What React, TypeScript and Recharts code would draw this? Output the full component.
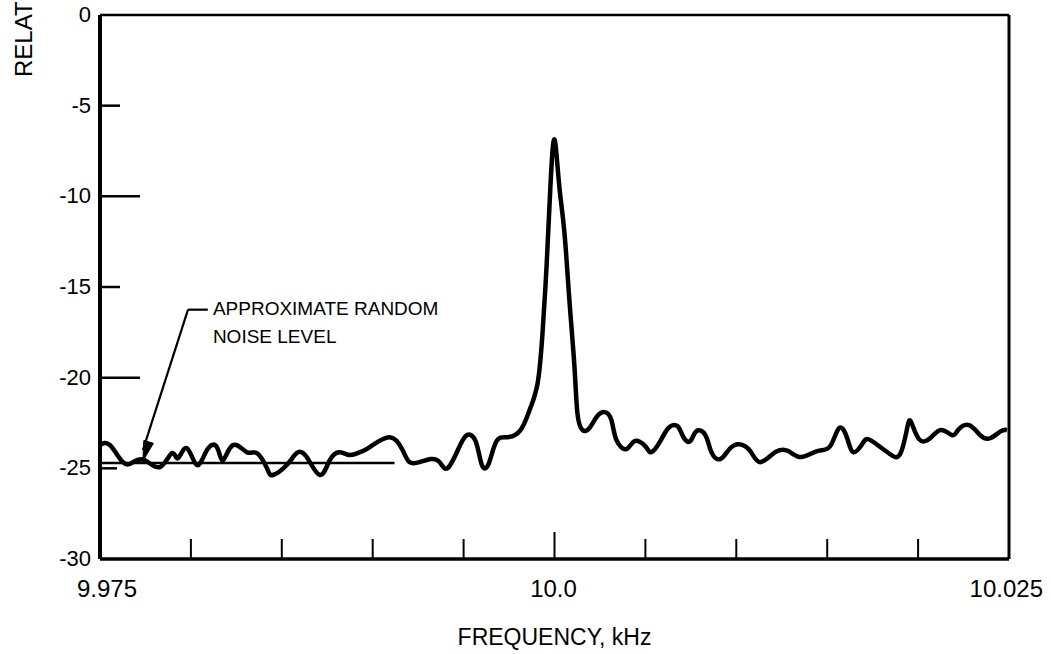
import React from "react";
import { LineChart, Line, XAxis, YAxis, ReferenceLine, ReferenceDot } from "recharts";

// ---------- data ----------
const frequencyKHz = [
  9.975, 9.97555, 9.97626, 9.97681, 9.97747, 9.9783, 9.97896, 9.97929, 9.97978, 9.98033,
  9.98088, 9.98143, 9.98176, 9.98231, 9.98308, 9.98363, 9.98418, 9.98451, 9.98527, 9.98582,
  9.98637, 9.98709, 9.98764, 9.98819, 9.98874, 9.98929, 9.98984, 9.99093, 9.99165, 9.99203,
  9.99258, 9.99319, 9.99368, 9.99412, 9.99473, 9.99517, 9.99566, 9.99599, 9.99637, 9.99681,
  9.99742, 9.99813, 9.99863, 9.99907, 9.99934, 9.99956, 9.99973, 9.99989, 10.00005, 10.00027,
  10.00055, 10.00082, 10.0011, 10.00126, 10.00154, 10.00192, 10.00231, 10.00275, 10.00313, 10.00341,
  10.00396, 10.0044, 10.005, 10.00533, 10.00582, 10.00626, 10.00676, 10.00709, 10.00747, 10.0078,
  10.0083, 10.00863, 10.00912, 10.00962, 10.01016, 10.01077, 10.01132, 10.01214, 10.01286, 10.01357,
  10.01445, 10.01516, 10.01566, 10.0161, 10.01643, 10.01692, 10.01725, 10.01786, 10.01846, 10.01901,
  10.0194, 10.01962, 10.02005, 10.02066, 10.02126, 10.02187, 10.0222, 10.0228, 10.02341, 10.02396,
  10.02456, 10.02489,
];
const relativeLevelDb = [
  -23.72, -23.72, -24.66, -24.66, -24.55, -24.93, -24.16, -24.44, -23.89, -24.82,
  -24.0, -23.83, -24.55, -23.72, -24.11, -24.16, -24.99, -25.37, -24.82, -24.16,
  -24.38, -25.37, -24.55, -24.11, -24.27, -24.11, -23.83, -23.28, -24.0, -24.66,
  -24.66, -24.49, -24.66, -24.99, -23.89, -23.17, -23.5, -24.77, -24.77, -23.5,
  -23.28, -22.89, -21.79, -20.31, -17.56, -13.92, -10.4, -7.5, -7.1, -9.5,
  -12.05, -15.74, -19.43, -21.96, -22.89, -22.78, -22.18, -21.9, -22.34, -23.45,
  -23.94, -23.5, -23.78, -24.11, -23.5, -22.78, -22.67, -23.28, -23.5, -22.95,
  -23.17, -24.11, -24.49, -23.94, -23.67, -24.05, -24.66, -24.11, -24.05, -24.38,
  -24.05, -23.78, -22.78, -23.34, -24.11, -23.67, -23.39, -23.78, -24.22, -24.22,
  -22.78, -22.45, -23.39, -23.34, -22.89, -23.17, -22.89, -22.62, -23.17, -23.34,
  -22.95, -22.89,
];

const xDomain = [9.975, 10.025];
const yDomain = [-30, 0];
const xTicks = [9.975, 9.98, 9.985, 9.99, 9.995, 10.0, 10.005, 10.01, 10.015, 10.02, 10.025];
const xLabeledTicks = [9.975, 10.0, 10.025];
const xTickLabels = ["9.975", "10.0", "10.025"];
const yTicks = [0, -5, -10, -15, -20, -25, -30];
const yTickLabels = ["0", "-5", "-10", "-15", "-20", "-25", "-30"];

const noiseLevelDb = -24.7;
const noiseLineEndKHz = 9.9912;
const arrowCorner = { f: 9.97984, db: -16.25 };
const leaderEnd = { f: 9.98093, db: -16.25 };
const arrowTip = { f: 9.97736, db: -24.6 };
const annotationAnchor = { f: 9.98121, db: -16.25 };
const annotationLines = ["APPROXIMATE RANDOM", "NOISE LEVEL"];

const xTitle = "FREQUENCY, kHz";
const yTitleVisible = "RELAT";

const data = frequencyKHz.map((f, i) => ({ f, db: relativeLevelDb[i] }));

const FONT = "'Liberation Sans', Arial, Helvetica, sans-serif";

const XTick = (props: any) => {
  const { x, y, payload } = props;
  const v = payload.value;
  const idx = xLabeledTicks.findIndex((t) => Math.abs(t - v) < 1e-7);
  const len = Math.abs(v - 10.0) < 1e-7 ? 27 : 20;
  const anchor = idx === 0 ? "start" : idx === 2 ? "end" : "middle";
  const dx = idx === 0 ? -23 : idx === 2 ? 34 : -1;
  return (
    <g>
      <line x1={x} x2={x} y1={y} y2={y - len} stroke="#000" strokeWidth={2} />
      {idx >= 0 && (
        <text x={x + dx} y={y + 38} textAnchor={anchor} fontSize={24} fontFamily={FONT} fill="#000">
          {xTickLabels[idx]}
        </text>
      )}
    </g>
  );
};

const YTick = (props: any) => {
  const { x, y, payload } = props;
  const v = payload.value;
  const idx = yTicks.indexOf(v);
  const len = v === 0 || v === -30 ? 0 : v % 10 === 0 ? 40 : v === -25 ? 17 : 20;
  return (
    <g>
      {len > 0 && <line x1={x} x2={x + len} y1={y} y2={y} stroke="#000" strokeWidth={2.5} />}
      <text x={x - 9} y={y + 7} textAnchor="end" fontSize={22} fontFamily={FONT} fill="#000">
        {yTickLabels[idx]}
      </text>
    </g>
  );
};

const ArrowHead = (props: any) => {
  const { cx, cy } = props;
  const ang = Math.atan2(151, -45); // direction of the arrow in pixels
  const L = 20;
  const W = 5;
  const bx = cx - L * Math.cos(ang);
  const by = cy - L * Math.sin(ang);
  const px = -Math.sin(ang) * W;
  const py = Math.cos(ang) * W;
  return (
    <polygon
      points={`${cx},${cy} ${bx + px},${by + py} ${bx - px},${by - py}`}
      fill="#000"
      stroke="#000"
      strokeWidth={1}
    />
  );
};

const AnnotationText = (props: any) => {
  const { cx, cy } = props;
  return (
    <g>
      <text x={cx} y={cy + 5} fontSize={19} fontFamily={FONT} fill="#000">
        {annotationLines[0]}
      </text>
      <text x={cx} y={cy + 33} fontSize={19} fontFamily={FONT} fill="#000">
        {annotationLines[1]}
      </text>
    </g>
  );
};

const XTitle = (props: any) => {
  const vb = props.viewBox || { x: 100, y: 559, width: 909, height: 60 };
  return (
    <text x={vb.x + vb.width / 2} y={vb.y + 86} textAnchor="middle" fontSize={23} fontFamily={FONT} fill="#000">
      {xTitle}
    </text>
  );
};

const YTitle = (props: any) => {
  const vb = props.viewBox || { x: 0, y: 15, width: 100, height: 544 };
  const x = vb.x + 32;
  const y = vb.y + 62;
  return (
    <text x={x} y={y} transform={`rotate(-90 ${x} ${y})`} textAnchor="start" fontSize={24} fontFamily={FONT} fill="#000">
      {yTitleVisible}
    </text>
  );
};

export default function App() {
  return (
    <div style={{ position: "absolute", left: 0, top: 0, width: 1051, height: 654, background: "#fff" }}>
      <LineChart
        width={1051}
        height={654}
        data={data}
        margin={{ top: 15, right: 42, left: 0, bottom: 35 }}
      >
        <XAxis
          dataKey="f"
          type="number"
          domain={xDomain}
          ticks={xTicks}
          interval={0}
          allowDataOverflow
          tickSize={0}
          tickMargin={0}
          tickLine={false}
          axisLine={{ stroke: "#000", strokeWidth: 3.5 }}
          height={60}
          tick={(p: any) => <XTick {...p} />}
          label={(p: any) => <XTitle {...p} />}
        />
        <YAxis
          type="number"
          domain={yDomain}
          ticks={yTicks}
          interval={0}
          allowDataOverflow
          tickSize={0}
          tickMargin={0}
          tickLine={false}
          axisLine={{ stroke: "#000", strokeWidth: 4 }}
          width={100}
          tick={(p: any) => <YTick {...p} />}
          label={(p: any) => <YTitle {...p} />}
        />
        <ReferenceLine y={0} stroke="#000" strokeWidth={2.5} />
        <ReferenceLine x={10.025} stroke="#000" strokeWidth={3} />
        <ReferenceLine
          segment={[{ x: xDomain[0], y: noiseLevelDb }, { x: noiseLineEndKHz, y: noiseLevelDb }]}
          stroke="#000"
          strokeWidth={2.5}
        />
        <ReferenceLine
          segment={[{ x: arrowCorner.f, y: arrowCorner.db }, { x: arrowTip.f, y: arrowTip.db + 0.6 }]}
          stroke="#000"
          strokeWidth={2.2}
        />
        <ReferenceLine
          segment={[{ x: arrowCorner.f, y: arrowCorner.db }, { x: leaderEnd.f, y: leaderEnd.db }]}
          stroke="#000"
          strokeWidth={2.2}
        />
        <ReferenceDot x={arrowTip.f} y={arrowTip.db} r={3} shape={(p: any) => <ArrowHead {...p} />} />
        <ReferenceDot
          x={annotationAnchor.f}
          y={annotationAnchor.db}
          r={3}
          shape={(p: any) => <AnnotationText {...p} />}
        />
        <Line
          type="natural"
          dataKey="db"
          stroke="#000"
          strokeWidth={4.5}
          dot={false}
          activeDot={false}
          strokeLinejoin="round"
          isAnimationActive={false}
        />
      </LineChart>
    </div>
  );
}
